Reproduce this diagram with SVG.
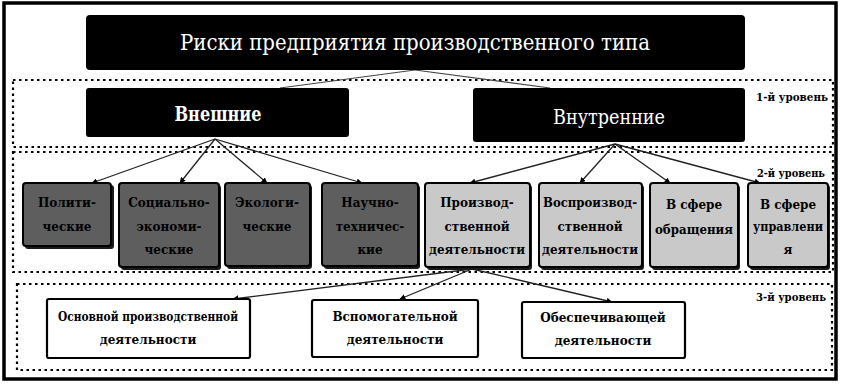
<svg xmlns="http://www.w3.org/2000/svg" width="841" height="385" viewBox="0 0 841 385">
<defs>
<marker id="arr" viewBox="0 0 10 10" refX="9" refY="5" markerWidth="6" markerHeight="6" orient="auto" markerUnits="userSpaceOnUse">
<path d="M0,0 L10,5 L0,10 z" fill="#000"/>
</marker>
<style>
.band{fill:none;stroke:#000;stroke-width:2.2;stroke-dasharray:2.5 3.5}
.blk{fill:#000}
.wt{fill:#fff;font-family:'DejaVu Serif',serif;text-anchor:middle}
.dk{fill:#5e5e5e;stroke:#000;stroke-width:2}
.lt{fill:#c9c9c9;stroke:#000;stroke-width:2}
.wb{fill:#fff;stroke:#000;stroke-width:2.2}
.sh{fill:#1a1a1a}
.t{font-family:'DejaVu Serif',serif;font-weight:bold;font-size:12px;fill:#000;text-anchor:middle}
.lab{font-family:'DejaVu Serif',serif;font-weight:bold;font-size:11px;fill:#000}
.c{stroke:#222;stroke-width:1.3;fill:none;marker-end:url(#arr)}
.cl{stroke:#444;stroke-width:1.2;fill:none}
</style>
</defs>
<rect width="841" height="385" fill="#fff"/>
<rect x="4" y="3" width="832" height="376" fill="none" stroke="#000" stroke-width="3.5"/>
<g id="bands">
<rect class="band" x="13" y="80" width="820" height="67"/>
<rect class="band" x="13" y="152" width="820" height="120"/>
<rect class="band" x="17" y="284" width="815" height="86"/>
<text class="lab" x="756" y="101" textLength="72" lengthAdjust="spacingAndGlyphs">1-й уровень</text>
<text class="lab" x="757" y="177" textLength="68" lengthAdjust="spacingAndGlyphs">2-й уровень</text>
<text class="lab" x="756" y="301" textLength="70" lengthAdjust="spacingAndGlyphs">3-й уровень</text>
</g>
<g id="connectors">
<line class="cl" x1="415" y1="70" x2="280" y2="88"/>
<line class="cl" x1="415" y1="70" x2="550" y2="88"/>
<line class="c" x1="215" y1="139" x2="92" y2="183"/>
<line class="c" x1="215" y1="139" x2="180" y2="183"/>
<line class="c" x1="215" y1="139" x2="267" y2="183"/>
<line class="c" x1="215" y1="139" x2="362" y2="183"/>
<line class="c" x1="615" y1="144" x2="470" y2="183"/>
<line class="c" x1="615" y1="144" x2="580" y2="183"/>
<line class="c" x1="615" y1="144" x2="670" y2="183"/>
<line class="c" x1="615" y1="144" x2="760" y2="183"/>
<line class="c" x1="472" y1="269" x2="233" y2="299"/>
<line class="c" x1="472" y1="269" x2="400" y2="299"/>
<line class="c" x1="472" y1="269" x2="612" y2="302"/>
</g>
<g id="title">
<rect class="blk" x="86" y="15" width="659" height="55" rx="4"/>
<text class="wt" x="415" y="50" font-size="23" textLength="470" lengthAdjust="spacingAndGlyphs">Риски предприятия производственного типа</text>
</g>
<g id="external">
<rect class="blk" x="86" y="88" width="263" height="49" rx="3"/>
<text class="wt" x="218" y="121" font-size="20" font-weight="bold" textLength="87" lengthAdjust="spacingAndGlyphs">Внешние</text>
</g>
<g id="internal">
<rect class="blk" x="473" y="88" width="272" height="54" rx="3"/>
<text class="wt" x="609" y="124" font-size="20" textLength="112" lengthAdjust="spacingAndGlyphs">Внутренние</text>
</g>
<g id="political">
<rect class="sh" x="25" y="185" width="89" height="64" rx="3"/>
<rect class="dk" x="23" y="183" width="88" height="63" rx="3"/>
<text class="t" x="67" y="207">Полити-</text>
<text class="t" x="67" y="231">ческие</text>
</g>
<g id="socio">
<rect class="sh" x="121" y="185" width="100" height="85" rx="3"/>
<rect class="dk" x="119" y="183" width="100" height="84" rx="3"/>
<text class="t" x="169" y="207">Социально-</text>
<text class="t" x="169" y="231">экономи-</text>
<text class="t" x="169" y="254">ческие</text>
</g>
<g id="ecology">
<rect class="sh" x="227" y="185" width="85" height="84" rx="3"/>
<rect class="dk" x="225" y="183" width="85" height="83" rx="3"/>
<text class="t" x="267" y="207">Экологи-</text>
<text class="t" x="267" y="231">ческие</text>
</g>
<g id="scitech">
<rect class="sh" x="324" y="185" width="96" height="84" rx="3"/>
<rect class="dk" x="322" y="183" width="96" height="83" rx="3"/>
<text class="t" x="370" y="207">Научно-</text>
<text class="t" x="370" y="231">техничес-</text>
<text class="t" x="370" y="254">кие</text>
</g>
<g id="production">
<rect class="sh" x="427" y="185" width="105" height="85" rx="3"/>
<rect class="lt" x="425" y="183" width="105" height="84" rx="3"/>
<text class="t" x="477" y="207">Производ-</text>
<text class="t" x="477" y="231">ственной</text>
<text class="t" x="477" y="254" textLength="96" lengthAdjust="spacingAndGlyphs">деятельности</text>
</g>
<g id="reproduction">
<rect class="sh" x="541" y="185" width="103" height="85" rx="3"/>
<rect class="lt" x="539" y="183" width="103" height="84" rx="3"/>
<text class="t" x="590" y="207" textLength="94" lengthAdjust="spacingAndGlyphs">Воспроизвод-</text>
<text class="t" x="590" y="231">ственной</text>
<text class="t" x="590" y="254" textLength="96" lengthAdjust="spacingAndGlyphs">деятельности</text>
</g>
<g id="circulation">
<rect class="sh" x="652" y="185" width="88" height="85" rx="3"/>
<rect class="lt" x="650" y="183" width="88" height="84" rx="3"/>
<text class="t" x="694" y="209">В сфере</text>
<text class="t" x="694" y="234" textLength="78" lengthAdjust="spacingAndGlyphs">обращения</text>
</g>
<g id="management">
<rect class="sh" x="750" y="185" width="80" height="85" rx="3"/>
<rect class="lt" x="748" y="183" width="80" height="84" rx="3"/>
<text class="t" x="788" y="209">В сфере</text>
<text class="t" x="788" y="231" textLength="70" lengthAdjust="spacingAndGlyphs">управлени</text>
<text class="t" x="788" y="254">я</text>
</g>
<g id="main-activity">
<rect class="wb" x="47" y="299" width="203" height="59" rx="2"/>
<text class="t" x="148" y="321" textLength="180" lengthAdjust="spacingAndGlyphs">Основной производственной</text>
<text class="t" x="148" y="344">деятельности</text>
</g>
<g id="auxiliary">
<rect class="wb" x="312" y="300" width="166" height="57" rx="2"/>
<text class="t" x="395" y="321">Вспомогательной</text>
<text class="t" x="395" y="344">деятельности</text>
</g>
<g id="supporting">
<rect class="wb" x="522" y="302" width="163" height="56" rx="2"/>
<text class="t" x="603" y="322">Обеспечивающей</text>
<text class="t" x="603" y="345">деятельности</text>
</g>
</svg>
